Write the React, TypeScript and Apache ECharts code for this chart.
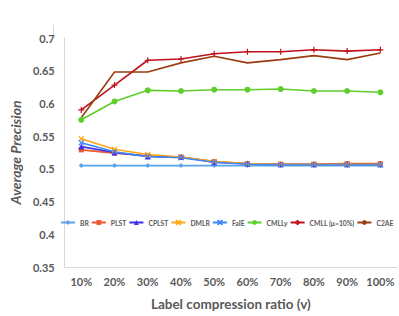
import React, { useEffect, useRef } from "react";
import * as echarts from "echarts";

const categories = ["10%", "20%", "30%", "40%", "50%", "60%", "70%", "80%", "90%", "100%"];
const BR = [0.505, 0.505, 0.505, 0.505, 0.505, 0.505, 0.505, 0.505, 0.505, 0.505];
const PLST = [0.529, 0.524, 0.52, 0.518, 0.511, 0.508, 0.507, 0.507, 0.508, 0.508];
const CPLST = [0.534, 0.525, 0.519, 0.518, 0.51, 0.508, 0.507, 0.507, 0.507, 0.507];
const DMLR = [0.546, 0.53, 0.522, 0.518, 0.511, 0.508, 0.507, 0.507, 0.507, 0.507];
const FaIE = [0.54, 0.526, 0.519, 0.517, 0.51, 0.507, 0.506, 0.506, 0.506, 0.506];
const CMLLy = [0.575, 0.603, 0.62, 0.619, 0.621, 0.621, 0.622, 0.619, 0.619, 0.617];
const CMLL = [0.59, 0.628, 0.666, 0.668, 0.676, 0.679, 0.679, 0.682, 0.68, 0.682];
const C2AE = [0.578, 0.648, 0.648, 0.662, 0.672, 0.662, 0.667, 0.673, 0.667, 0.677];

const FONT = "Lato";
const GRAY = "#595959";

const X_PATH = "path://M0,0L10,10M10,0L0,10";
const PLUS_PATH = "path://M5,0L5,10M0,5L10,5";

export default function App() {
  const ref = useRef<HTMLDivElement>(null);
  useEffect(() => {
    if (!ref.current) return;
    const chart = echarts.init(ref.current, null, { renderer: "svg" });
    const mk = (name: string, data: number[], color: string, symbol: string, size: number, stroke = false) => ({
      name,
      type: "line",
      data,
      symbol,
      symbolSize: size,
      showSymbol: symbol !== "none",
      lineStyle: { color, width: 1.6 },
      itemStyle: stroke
        ? { color, borderColor: color, borderWidth: 1.2 }
        : { color, borderColor: color, borderWidth: 0 },
    });
    chart.setOption({
      animation: false,
      grid: { left: 53, right: 2, top: 38, bottom: 48 },
      legend: {
        left: 60,
        top: 219,
        width: 339,
        padding: 0,
        itemWidth: 14,
        itemHeight: 6,
        itemGap: 2,
        textStyle: { fontFamily: FONT, fontSize: 6.8, fontWeight: "bold", color: GRAY },
        data: ["BR", "PLST", "CPLST", "DMLR", "FaIE", "CMLLy", "CMLL (μ=10%)", "C2AE"],
      },
      graphic: [
        { type: "line", shape: { x1: 53.5, y1: 25, x2: 53.5, y2: 38 }, style: { stroke: "#d9d9d9", lineWidth: 1 } },
      ],
      xAxis: {
        type: "category",
        data: categories,
        boundaryGap: true,
        axisLine: { lineStyle: { color: "#d9d9d9" } },
        axisTick: { show: false },
        axisLabel: { interval: 0, fontFamily: FONT, fontSize: 11, fontWeight: "bold", color: GRAY, margin: 9 },
        name: "Label compression ratio (v)",
        nameLocation: "middle",
        nameGap: 30,
        nameTextStyle: { fontFamily: FONT, fontSize: 13.5, fontWeight: "bold", color: GRAY },
      },
      yAxis: {
        type: "value",
        min: 0.35,
        max: 0.7,
        interval: 0.05,
        axisLine: { show: true, lineStyle: { color: "#d9d9d9" } },
        axisTick: { show: false },
        splitLine: { show: false },
        axisLabel: { fontFamily: FONT, fontSize: 11, fontWeight: "bold", color: GRAY, margin: 10 },
        name: "Average Precision",
        nameLocation: "middle",
        nameGap: 33,
        nameTextStyle: { fontFamily: FONT, fontSize: 14, fontWeight: "bold", fontStyle: "italic", color: GRAY },
      },
      series: [
        mk("BR", BR, "#5aa5ea", "diamond", 5),
        mk("PLST", PLST, "#f0552d", "rect", 5),
        mk("CPLST", CPLST, "#3a2fe6", "triangle", 6),
        mk("DMLR", DMLR, "#ffa914", X_PATH, 5, true),
        mk("FaIE", FaIE, "#3f86f7", X_PATH, 5, true),
        mk("CMLLy", CMLLy, "#5fcd2a", "circle", 6),
        mk("CMLL (μ=10%)", CMLL, "#c0111c", PLUS_PATH, 6, true),
        mk("C2AE", C2AE, "#9b3d10", "none", 0),
      ],
    });
    return () => chart.dispose();
  }, []);
  return <div ref={ref} style={{ width: 399, height: 316, position: "absolute", left: 0, top: 0 }} />;
}
